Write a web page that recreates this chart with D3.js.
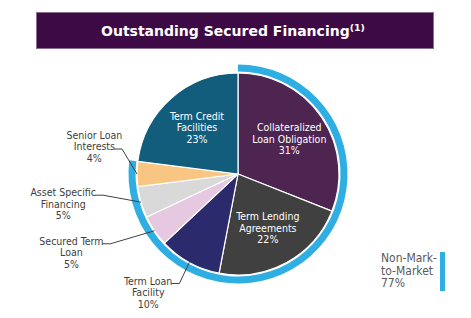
<!DOCTYPE html>
<html>
<head>
<meta charset="utf-8">
<script src="https://cdn.jsdelivr.net/npm/d3@7"></script>
<style>
	body{ margin:0; background:#fff; }
	svg text{ font-family:"DejaVu Sans Condensed","DejaVu Sans",sans-serif; font-stretch:condensed; }
</style>
</head>
<body>
<svg id="chart" width="471" height="318"></svg>
<script>
// slices, clockwise from 12 o'clock
let categories = ["Collateralized Loan Obligation", "Term Lending Agreements", "Term Loan Facility",
				"Secured Term Loan", "Asset Specific Financing", "Senior Loan Interests", "Term Credit Facilities"];
let labelLines = [["Collateralized", "Loan Obligation"], ["Term Lending", "Agreements"], ["Term Loan", "Facility"],
				["Secured Term", "Loan"], ["Asset Specific", "Financing"], ["Senior Loan", "Interests"], ["Term Credit", "Facilities"]];
let shares = [31, 22, 10, 5, 5, 4, 23];
let sliceColors = ["#4e2450", "#404040", "#2b2a6c", "#e6c8e0", "#d9d9d9", "#f9c582", "#135d7c"];
let nonMtmShare = 77;
let legendLines = ["Non-Mark-", "to-Market", "77%"];
let titleText = "Outstanding Secured Financing";

// which labels sit inside the pie, and how the outside ones are pulled out
let insideLabel = [true, true, false, false, false, false, true];
//[dx, dy, line the leader attaches to]
let outsideLayout = {
	2: [-10, 21, 0],
	3: [-44, 13, 0],
	4: [-38, -7, 0],
	5: [-15, -25, 1]
};

let svg = d3.select("#chart");
let cx = 238, cy = 174, r = 101;

//title bar
svg.append("rect")
	.attr("x", 36.5).attr("y", 12.5)
	.attr("width", 397).attr("height", 36)
	.style("fill", "#3e0a45")
	.style("stroke", "#8a6e8d")
	.style("stroke-width", 1);
let title = svg.append("text")
	.attr("x", 233).attr("y", 36)
	.style("text-anchor", "middle")
	.style("fill", "#fff")
	.style("font-family", "'DejaVu Sans'")
	.style("font-stretch", "normal")
	.style("font-weight", "bold")
	.style("font-size", "14px");
title.append("tspan").text(titleText);
title.append("tspan").text("(1)").attr("dy", -5).style("font-size", "9.5px");

let g = svg.append("g").attr("transform", "translate(" + cx + "," + cy + ")");

let pie = d3.pie().sort(null).value(function(d){ return d; });
let arcs = pie(shares);

let arc = d3.arc().innerRadius(0).outerRadius(r);
let labelArc = d3.arc().innerRadius(62).outerRadius(62);
let edgeArc = d3.arc().innerRadius(r).outerRadius(r);

//outer ring for the non-mark-to-market part
let ringScale = d3.scaleLinear().domain([0, 100]).range([0, 2 * Math.PI]);
g.append("path")
	.attr("d", d3.arc().innerRadius(r + 1.5).outerRadius(r + 8.5)
		.startAngle(0).endAngle(ringScale(nonMtmShare)))
	.style("fill", "#2eaee2");

g.selectAll(".slice")
	.data(arcs)
	.enter()
	.append("path")
	.attr("class", "slice")
	.attr("d", arc)
	.style("fill", function(d, i){ return sliceColors[i]; })
	.style("stroke", "#fff")
	.style("stroke-width", 1.2);

let lineH = 11.5, fontSize = "10.5px";

//labels inside
arcs.forEach(function(d, i){
	if(!insideLabel[i]) return;
	let c = labelArc.centroid(d);
	let t = g.append("text")
		.attr("x", c[0]).attr("y", c[1] - lineH + 3.5)
		.style("text-anchor", "middle")
		.style("fill", "#fff")
		.style("font-size", fontSize);
	labelLines[i].concat([shares[i] + "%"]).forEach(function(s, k){
		t.append("tspan").attr("x", c[0]).attr("dy", k == 0 ? 0 : lineH).text(s);
	});
});

//labels outside with leaders
arcs.forEach(function(d, i){
	if(insideLabel[i]) return;
	let lay = outsideLayout[i];
	let p = edgeArc.centroid(d);
	let ex = p[0] + lay[0], ey = p[1] + lay[1];
	let tail = 8;
	let lines = labelLines[i].concat([shares[i] + "%"]);

	let t = g.append("text")
		.style("text-anchor", "middle")
		.style("fill", "#404040")
		.style("font-size", fontSize);
	let spans = lines.map(function(s){ return t.append("tspan").text(s); });
	let w = spans[lay[2]].node().getComputedTextLength();
	let tx = ex - tail + 1 - w / 2;
	let ty = ey + 1 - lay[2] * lineH;
	spans.forEach(function(sp, k){
		sp.attr("x", tx).attr("y", ty + k * lineH);
	});

	g.append("path")
		.attr("d", d3.line()([[ex - tail, ey], [ex, ey], p]))
		.style("fill", "none")
		.style("stroke", "#404040")
		.style("stroke-width", 1);
});

//legend
let lg = svg.append("g").attr("transform", "translate(381,262)");
legendLines.forEach(function(s, k){
	lg.append("text")
		.attr("x", 0).attr("y", k * 12.5)
		.style("fill", "#595959")
		.style("font-size", "12px")
		.text(s);
});
lg.append("rect")
	.attr("x", 59).attr("y", -10)
	.attr("width", 5).attr("height", 39)
	.style("fill", "#2eaee2");
</script>
</body>
</html>
